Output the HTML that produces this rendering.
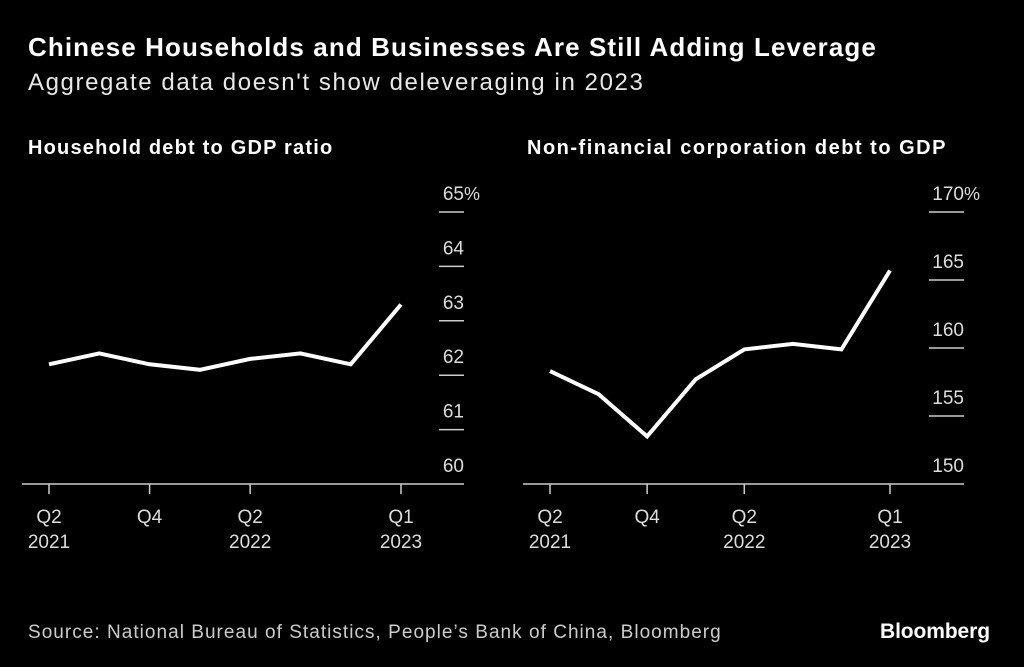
<!DOCTYPE html>
<html><head><meta charset="utf-8">
<style>
html,body{margin:0;padding:0;background:#000;}
body{width:1024px;height:667px;overflow:hidden;font-family:"Liberation Sans",sans-serif;color:#fff;position:relative;}
.t{position:absolute;white-space:nowrap;}
svg text{font-family:"Liberation Sans",sans-serif;}
</style></head><body>
<div class="t" style="left:28px;top:32px;font-size:26px;font-weight:bold;letter-spacing:1.1px;">Chinese Households and Businesses Are Still Adding Leverage</div>
<div class="t" style="left:28px;top:69px;font-size:24px;color:#e8e8e8;letter-spacing:1.6px;">Aggregate data doesn't show deleveraging in 2023</div>
<div class="t" style="left:28px;top:137px;font-size:20px;font-weight:bold;letter-spacing:1.2px;">Household debt to GDP ratio</div>
<div class="t" style="left:527px;top:137px;font-size:20px;font-weight:bold;letter-spacing:1.5px;">Non-financial corporation debt to GDP</div>
<div class="t" style="left:28px;top:622px;font-size:19px;color:#ccc;letter-spacing:1.03px;">Source: National Bureau of Statistics, People’s Bank of China, Bloomberg</div>
<div class="t" style="left:880px;top:620px;font-size:21px;font-weight:bold;letter-spacing:-0.1px;">Bloomberg</div>
<svg id="chart" width="1024" height="667" style="position:absolute;left:0;top:0;"></svg>
<script>
const quarters = ["Q2 2021","Q3 2021","Q4 2021","Q1 2022","Q2 2022","Q3 2022","Q4 2022","Q1 2023"];
const xTickIdx = [0,2,4,7];
const xTickTop = ["Q2","Q4","Q2","Q1"];
const xTickBottom = ["2021","","2022","2023"];
const householdValues = [62.2,62.4,62.2,62.1,62.3,62.4,62.2,63.3];
const householdTicks = [60,61,62,63,64,65];
const corpValues = [158.3,156.6,153.5,157.7,159.9,160.3,159.9,165.7];
const corpTicks = [150,155,160,165,170];

const svg = document.getElementById('chart');
const NS = 'http://www.w3.org/2000/svg';
function mk(tag, attrs){const e=document.createElementNS(NS,tag);for(const k in attrs)e.setAttribute(k,attrs[k]);svg.appendChild(e);return e;}

function panel(p){
  const xs = i => p.x0 + i*(p.x1-p.x0)/(quarters.length-1);
  const ys = v => p.yb - (v-p.min)/(p.max-p.min)*(p.yb-p.yt);
  p.ticks.forEach((t,i)=>{
    const y = ys(t);
    if(i>0){
      const l = mk('line',{x1:p.tx0,x2:p.tx1,y1:y,y2:y,stroke:'#ccc','stroke-width':1.5});
      
      
    }
    const tx = mk('text',{x:p.tx1,y:y-12,fill:'#ddd','font-size':19,'text-anchor':'end'});
    tx.textContent = t;
    
    
    if(i===p.ticks.length-1){
      const pc = mk('text',{x:p.tx1,y:y-12,fill:'#ddd','font-size':18,'letter-spacing':'-1'});
      pc.textContent='%';
      
      
    }
  });
  const ax = mk('line',{x1:p.ax0,x2:p.tx1,y1:p.yb,y2:p.yb,stroke:'#ccc','stroke-width':1.5});
  
  
  xTickIdx.forEach((qi,k)=>{
    const x = xs(qi);
    const tk = mk('line',{x1:x,x2:x,y1:p.yb,y2:p.yb+10,stroke:'#ccc','stroke-width':1.5});
    
    
    const a = mk('text',{x:x,y:p.yb+39,fill:'#ddd','font-size':19,'text-anchor':'middle'});
    a.textContent = xTickTop[k];
    
    
    if(xTickBottom[k]){
      const b = mk('text',{x:x,y:p.yb+64,fill:'#ddd','font-size':19,'text-anchor':'middle'});
      b.textContent = xTickBottom[k];
      
      
    }
  });
  const pts = p.values.map((v,i)=>xs(i).toFixed(1)+','+ys(v).toFixed(1)).join(' ');
  const ln = mk('polyline',{points:pts,fill:'none',stroke:'#fff','stroke-width':4,'stroke-linejoin':'miter'});
  
  
}
panel({name:'household',values:householdValues,ticks:householdTicks,min:60,max:65,x0:49,x1:401,yb:484,yt:212,tx0:439,tx1:464,ax0:22});
panel({name:'corporate',values:corpValues,ticks:corpTicks,min:150,max:170,x0:550,x1:890,yb:484,yt:212,tx0:929,tx1:964,ax0:523});
</script>
</body></html>
